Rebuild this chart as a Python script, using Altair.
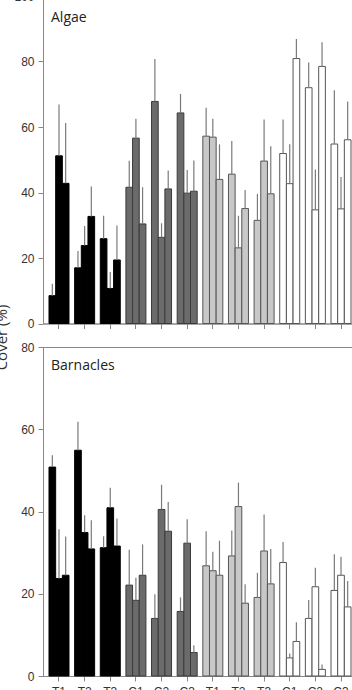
import altair as alt
import pandas as pd

# Site labels under each cluster of three bars
site_labels = ["T1", "T2", "T3", "C1", "C2", "C3", "T1", "T2", "T3", "C1", "C2", "C3"]

# Mean cover (%) and standard error, 3 bars per site, 12 sites
algae_mean = [8.5, 51.2, 42.8, 17.0, 23.8, 32.7, 25.9, 10.7, 19.4,
              41.6, 56.6, 30.4, 67.8, 26.3, 41.1, 64.3, 39.8, 40.4,
              57.2, 56.9, 44.0, 45.6, 23.1, 35.1, 31.5, 49.6, 39.6,
              51.9, 42.7, 80.9, 72.0, 34.7, 78.5, 54.8, 35.0, 56.1]
algae_se = [3.6, 15.7, 18.4, 5.1, 6.0, 9.1, 7.0, 5.0, 10.5,
            8.1, 5.9, 11.2, 13.0, 4.3, 5.6, 5.8, 7.1, 9.4,
            8.7, 5.6, 10.7, 10.1, 9.8, 5.7, 8.1, 12.7, 14.5,
            10.4, 12.0, 6.0, 7.7, 12.3, 7.4, 16.4, 9.7, 11.7]

barnacle_mean = [50.8, 23.7, 24.5, 54.9, 34.9, 30.9, 31.2, 40.9, 31.6,
                 22.1, 18.4, 24.5, 14.0, 40.5, 35.2, 15.7, 32.3, 5.7,
                 26.8, 25.6, 24.5, 29.2, 41.2, 17.7, 19.1, 30.4, 22.4,
                 27.6, 4.4, 8.4, 14.0, 21.7, 1.6, 20.8, 24.5, 16.8]
barnacle_se = [2.9, 12.0, 9.4, 6.9, 4.2, 7.0, 2.8, 4.9, 6.7,
               8.6, 5.5, 7.5, 5.9, 6.0, 7.1, 3.4, 5.8, 1.8,
               8.4, 4.6, 8.4, 6.2, 5.8, 4.6, 6.0, 8.9, 8.5,
               5.0, 1.1, 4.7, 4.5, 4.6, 1.2, 8.8, 4.5, 6.3]

group_fill = ["#000000", "#6b6b6b", "#c8c8c8", "#ffffff"]
group_stroke = ["#000000", "#3a3a3a", "#555555", "#555555"]


def frame(means, ses):
    rows = []
    for i, (m, s) in enumerate(zip(means, ses)):
        cluster = i // 3
        rows.append({"cluster": cluster, "bar": i % 3, "group": cluster // 3,
                     "mean": m, "upper": m + s})
    return pd.DataFrame(rows)


label_expr = "[" + ",".join(f"'{s}'" for s in site_labels) + "][datum.value]"


def panel(means, ses, name, top, name_y, height, show_labels, title):
    df = frame(means, ses)
    x_axis = alt.Axis(
        title=None, labels=show_labels, labelExpr=label_expr, labelAngle=0,
        tickSize=5, labelPadding=5,
    )
    y_axis_args = dict(values=list(range(0, top + 1, 20)), tickSize=5,
                       labelPadding=4)
    if title:
        y_axis_args.update(title=title, titleAngle=270, titleAlign="center",
                           titleBaseline="bottom", titleX=-34, titleY=-10,
                           titleFont="Open Sans", titleFontSize=15,
                           titleFontWeight="normal", titleColor="#333333")
    else:
        y_axis_args.update(title=None)
    base = alt.Chart(df).encode(
        x=alt.X("cluster:O", axis=x_axis,
                scale=alt.Scale(paddingInner=0.22, paddingOuter=0.234)),
        xOffset=alt.XOffset("bar:O", scale=alt.Scale(paddingInner=0, paddingOuter=0)),
    )
    y_scale = alt.Scale(domain=[0, top], nice=False)
    bars = base.mark_bar(strokeWidth=1).encode(
        y=alt.Y("mean:Q", scale=y_scale, axis=alt.Axis(**y_axis_args)),
        fill=alt.Fill("group:N", scale=alt.Scale(domain=[0, 1, 2, 3], range=group_fill), legend=None),
        stroke=alt.Stroke("group:N", scale=alt.Scale(domain=[0, 1, 2, 3], range=group_stroke), legend=None),
    )
    err = base.mark_rule(color="#7a7a7a", strokeWidth=1.2).encode(
        y=alt.Y("mean:Q", scale=y_scale), y2="upper:Q"
    )
    tag = alt.Chart(pd.DataFrame({"name": [name]})).mark_text(
        align="left", baseline="alphabetic", font="Open Sans", fontSize=14,
        color="#222222",
    ).encode(x=alt.value(8), y=alt.value(name_y), text="name:N")
    return alt.layer(bars, err, tag).properties(width=314, height=height)


algae = panel(algae_mean, algae_se, "Algae", 100, 25.5, 327.5, False, None)
barnacles = panel(barnacle_mean, barnacle_se, "Barnacles", 80, 23, 329, True, "Cover (%)")

chart = alt.vconcat(algae, barnacles, spacing=23, bounds="flush").properties(
    padding={"left": -7, "top": -11, "right": -6, "bottom": -8},
    background="white",
).configure_view(
    stroke="#888888", strokeWidth=1
).configure_axis(
    grid=False, domainColor="#888888", tickColor="#888888",
    labelColor="#333333", labelFont="Liberation Sans", labelFontSize=12,
    domainWidth=1, tickWidth=1,
)

chart.save("out.html", embed_options={"renderer": "svg", "actions": False})
